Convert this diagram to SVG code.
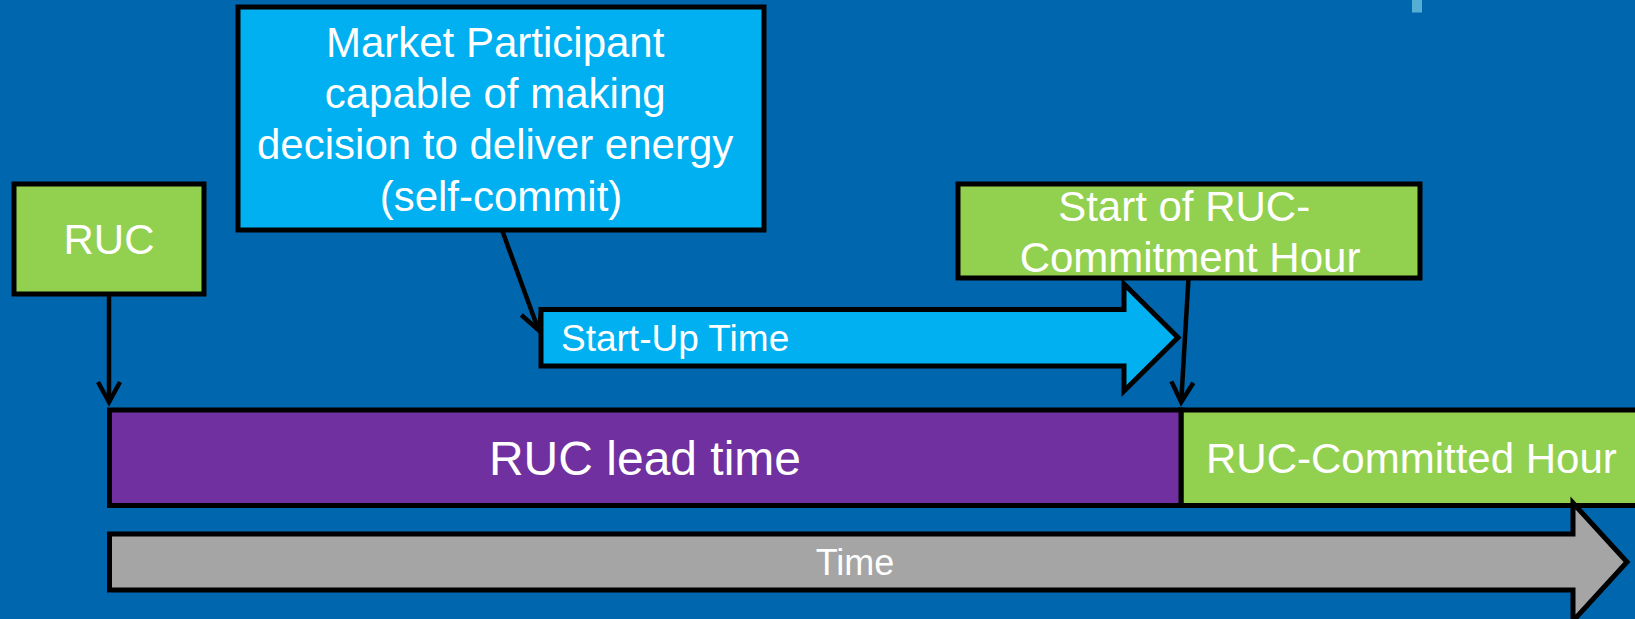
<svg xmlns="http://www.w3.org/2000/svg" width="1635" height="619" viewBox="0 0 1635 619">
  <style>
    .box { stroke: #000; stroke-width: 5; stroke-linejoin: miter; }
    .txt { font-family: "Liberation Sans", Arial, sans-serif; fill: #fff; }
    .conn { stroke: #000; stroke-width: 4.5; fill: none; }
  </style>
  <defs>
    <marker id="arrow" markerUnits="userSpaceOnUse" markerWidth="40" markerHeight="40" viewBox="-30 -20 40 40" refX="0" refY="0" orient="auto" overflow="visible">
      <path d="M-20,-11 L0,0 L-20,11" fill="none" stroke="#000" stroke-width="4.5" stroke-linejoin="miter"/>
    </marker>
  </defs>
  <rect x="0" y="0" width="1635" height="619" fill="#0067AE"/>
  <rect x="1412" y="0" width="10" height="12.5" fill="#55AED4"/>

  <g id="connectors">
    <line class="conn" x1="109" y1="294" x2="109" y2="402" marker-end="url(#arrow)"/>
    <line class="conn" x1="502" y1="230" x2="538.5" y2="330" marker-end="url(#arrow)"/>
    <line class="conn" x1="1188.5" y1="278" x2="1181.2" y2="402" marker-end="url(#arrow)"/>
  </g>

  <g id="node-ruc">
    <rect class="box" x="14" y="184" width="190" height="110" fill="#92D050"/>
    <text class="txt" x="109" y="254" font-size="42" text-anchor="middle">RUC</text>
  </g>

  <g id="node-market-participant">
    <rect class="box" x="238" y="7" width="526" height="223" fill="#00B0F0"/>
    <text class="txt" font-size="42" text-anchor="middle">
      <tspan x="501" y="57.3">Market Participant</tspan>
      <tspan x="501" y="108.3">capable of making</tspan>
      <tspan x="501" y="159.3">decision to deliver energy</tspan>
      <tspan x="501" y="210.7">(self-commit)</tspan>
    </text>
  </g>

  <g id="node-start-ruc-hour">
    <rect class="box" x="958" y="184" width="462" height="94" fill="#92D050"/>
    <text class="txt" font-size="42" text-anchor="middle">
      <tspan x="1190" y="220.7">Start of RUC-</tspan>
      <tspan x="1190" y="271.7">Commitment Hour</tspan>
    </text>
  </g>

  <g id="node-startup-time">
    <path class="box" d="M541,309.5 L1124,309.5 L1124,284 L1178,337.5 L1124,391 L1124,366 L541,366 Z" fill="#00B0F0"/>
    <text class="txt" x="561" y="350.7" font-size="37">Start-Up Time</text>
  </g>

  <g id="node-ruc-committed-hour">
    <rect class="box" x="1181" y="410" width="470" height="95.5" fill="#92D050"/>
    <text class="txt" x="1206" y="472.7" font-size="42">RUC-Committed Hour</text>
  </g>

  <g id="node-ruc-lead-time">
    <rect class="box" x="109.5" y="410" width="1071.5" height="95.5" fill="#7030A0"/>
    <text class="txt" x="645" y="475" font-size="48" text-anchor="middle">RUC lead time</text>
  </g>

  <g id="node-time">
    <path class="box" d="M109.5,534 L1573,534 L1573,503 L1627,562 L1573,621 L1573,590 L109.5,590 Z" fill="#A5A5A5"/>
    <text class="txt" x="855" y="575" font-size="36" text-anchor="middle">Time</text>
  </g>
</svg>
